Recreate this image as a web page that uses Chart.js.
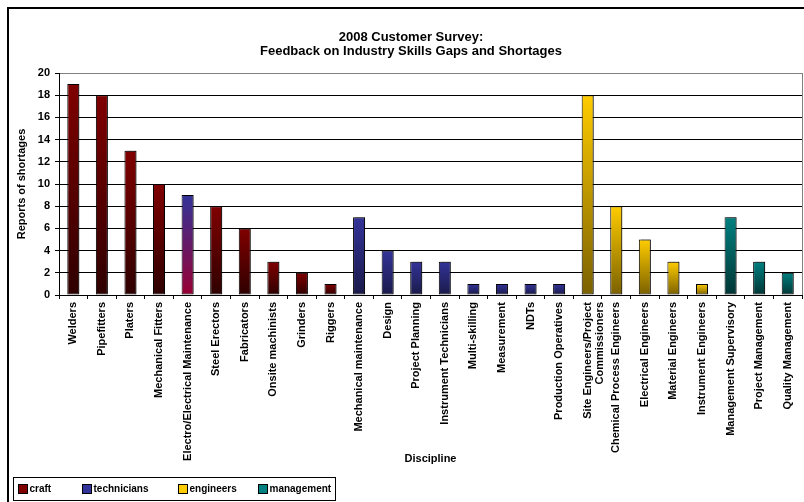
<!DOCTYPE html>
<html><head><meta charset="utf-8">
<script src="https://cdn.jsdelivr.net/npm/chart.js@4.4.1/dist/chart.umd.min.js"></script>
<style>
html,body{margin:0;padding:0;background:#fff;}
#wrap{position:relative;width:804px;height:502px;overflow:hidden;background:#fff;}
canvas{position:absolute;left:0;top:0;}
</style></head><body>
<div id="wrap"><canvas id="c" width="822" height="520"></canvas></div>
<script>
// ---- data ----
const categories = [
  'Welders','Pipefitters','Platers','Mechanical Fitters','Electro/Electrical Maintenance',
  'Steel Erectors','Fabricators','Onsite machinists','Grinders','Riggers',
  'Mechanical maintenance','Design','Project Planning','Instrument Technicians','Multi-skilling',
  'Measurement','NDTs','Production Operatives',['Site Engineers/Project','Commissioners'],
  'Chemical Process Engineers','Electrical Engineers','Material Engineers','Instrument Engineers',
  'Management Supervisory','Project Management','Quality Management'
];
const values = [19,18,13,10,9,8,6,3,2,1,7,4,3,3,1,1,1,1,18,8,5,3,1,7,3,2];
const groups = [
  'craft','craft','craft','craft','technicians','craft','craft','craft','craft','craft',
  'technicians','technicians','technicians','technicians','technicians','technicians','technicians','technicians',
  'engineers','engineers','engineers','engineers','engineers',
  'management','management','management'
];
const seriesNames = ['craft','technicians','engineers','management'];
const yMin = 0, yMax = 20, yStep = 2;
const chartTitle = ['2008 Customer Survey:','Feedback on Industry Skills Gaps and Shortages'];
const yTitle = 'Reports of shortages';
const xTitle = 'Discipline';

// ---- styles ----
const gradColors = {
  craft: ['#800000','#2e0000'],
  technicians: ['#333399','#1a1a4a'],
  engineers: ['#ffcc00','#7a6000'],
  management: ['#008080','#003535']
};
const specialGrad = {4: ['#333399','#990033']};
const legendColors = {craft:'#800000', technicians:'#333399', engineers:'#ffcc00', management:'#008080'};
const FONT = "'Liberation Sans', Arial, Helvetica, sans-serif";
Chart.defaults.font.family = FONT;
Chart.defaults.color = '#000';

function makeFill(name) {
  return function(c) {
    const solid = gradColors[name][0];
    if (c.type !== 'data') return solid;
    const chart = c.chart;
    if (!chart.chartArea) return solid;
    const v = c.raw;
    if (v == null) return solid;
    const ys = chart.scales.y;
    const top = ys.getPixelForValue(v), bot = ys.getPixelForValue(0);
    const cols = specialGrad[c.dataIndex] || gradColors[name];
    const g = chart.ctx.createLinearGradient(0, top, 0, bot);
    g.addColorStop(0, cols[0]);
    g.addColorStop(1, cols[1]);
    return g;
  };
}

const datasets = seriesNames.map(name => ({
  label: name,
  data: values.map((v, i) => groups[i] === name ? v : null),
  backgroundColor: makeFill(name),
  borderColor: '#000',
  borderWidth: 1,
  borderSkipped: false,
  grouped: false,
  barPercentage: 0.42,
  categoryPercentage: 1
}));

const framePlugin = {
  id: 'frame',
  beforeDraw(chart) {
    const ctx = chart.ctx;
    ctx.save();
    ctx.fillStyle = '#fff';
    ctx.fillRect(0, 0, chart.width, chart.height);
    ctx.restore();
  },
  beforeDatasetsDraw(chart) {
    const ctx = chart.ctx, a = chart.chartArea;
    ctx.save();
    ctx.strokeStyle = '#808080';
    ctx.lineWidth = 1;
    ctx.beginPath();
    ctx.moveTo(Math.round(a.right) + 0.5, a.top);
    ctx.lineTo(Math.round(a.right) + 0.5, a.bottom);
    ctx.stroke();
    ctx.restore();
    ctx.save();
    ctx.shadowColor = 'rgba(0,0,0,0.35)';
    ctx.shadowOffsetX = 2;
    ctx.shadowOffsetY = -1;
    ctx.shadowBlur = 0;
  },
  afterDatasetsDraw(chart) {
    chart.ctx.restore();
  },
  afterDraw(chart) {
    const ctx = chart.ctx;
    ctx.save();
    // outer chart border
    ctx.fillStyle = '#000';
    ctx.fillRect(7, 7, chart.width, 2);
    ctx.fillRect(7, 7, 2, chart.height);
    // legend
    const lx = 13, ly = 477, lw = 322, lh = 23;
    ctx.strokeStyle = '#000';
    ctx.lineWidth = 1;
    ctx.strokeRect(lx + 0.5, ly + 0.5, lw, lh);
    const itemX = [18, 82, 178, 258];
    const cy = 489;
    ctx.font = 'bold 10px ' + FONT;
    ctx.textBaseline = 'middle';
    ctx.textAlign = 'left';
    chart.data.datasets.forEach((ds, i) => {
      const x = itemX[i];
      ctx.fillStyle = legendColors[ds.label];
      ctx.fillRect(x, cy - 5, 10, 10);
      ctx.strokeStyle = '#000';
      ctx.strokeRect(x + 0.5, cy - 4.5, 9, 9);
      ctx.fillStyle = '#000';
      ctx.fillText(ds.label, x + 11.5, cy + 0.5);
    });
    ctx.restore();
  }
};

new Chart(document.getElementById('c'), {
  type: 'bar',
  data: { labels: categories, datasets },
  plugins: [framePlugin],
  options: {
    responsive: false,
    animation: false,
    devicePixelRatio: 1,
    events: [],
    layout: { padding: { left: 20, right: 20, top: 0, bottom: 50 } },
    plugins: {
      legend: { display: false },
      tooltip: { enabled: false },
      title: {
        display: true,
        text: chartTitle,
        color: '#000',
        font: { size: 13, weight: 'bold', lineHeight: '14px' },
        padding: { top: 30, bottom: 15 }
      }
    },
    scales: {
      x: {
        offset: true,
        afterFit(s) { s.height = 175; },
        grid: {
          offset: true, drawOnChartArea: false, drawTicks: true,
          tickLength: 4, color: '#000', tickColor: '#000'
        },
        border: { color: '#000', width: 1 },
        ticks: {
          autoSkip: false, minRotation: 90, maxRotation: 90, padding: 3,
          color: '#000', font: { size: 11, weight: 'bold', lineHeight: '12px' }
        },
        title: {
          display: true, text: xTitle, color: '#000',
          font: { size: 11, weight: 'bold' }, padding: { top: 0, bottom: 4 }
        }
      },
      y: {
        min: yMin, max: yMax,
        afterFit(s) { s.width = 39; },
        grid: {
          color: c => (c.tick && c.tick.value === yMax) ? '#808080' : '#000',
          tickColor: '#000', tickLength: 4, lineWidth: 1
        },
        border: { color: '#000', width: 1 },
        ticks: {
          stepSize: yStep, padding: 5, color: '#000',
          font: { size: 11, weight: 'bold' }
        },
        title: {
          display: true, text: yTitle, color: '#000',
          font: { size: 11, weight: 'bold' }, padding: { top: -5, bottom: 0 }
        }
      }
    }
  }
});
</script>
</body></html>
